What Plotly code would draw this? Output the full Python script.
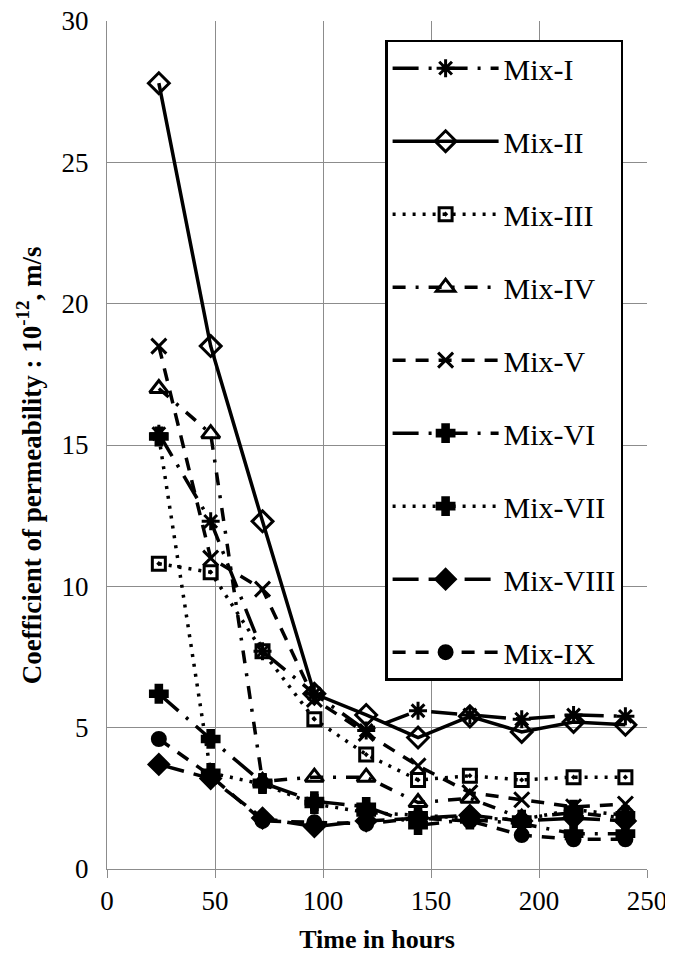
import plotly.graph_objects as go

hours = [24, 48, 72, 96, 120, 144, 168, 192, 216, 240]

mix_1 = [15.4, 12.3, 7.7, 6.2, 4.9, 5.6, 5.45, 5.3, 5.45, 5.4]
mix_2 = [27.8, 18.5, 12.3, 6.2, 5.45, 4.65, 5.4, 4.85, 5.2, 5.1]
mix_3 = [10.8, 10.5, 7.7, 5.3, 4.05, 3.15, 3.3, 3.15, 3.25, 3.25]
mix_4 = [17.0, 15.4, 3.1, 3.25, 3.25, 2.35, 2.5, 1.8, 2.0, 1.8]
mix_5 = [18.5, 11.0, 9.9, 6.0, 4.8, 3.65, 2.7, 2.45, 2.2, 2.3]
mix_6 = [6.2, 4.6, 3.05, 2.4, 2.2, 1.55, 1.75, 1.6, 1.25, 1.25]
mix_7 = [15.3, 3.4, 3.0, 2.3, 2.0, 1.9, 1.8, 1.75, 2.1, 1.9]
mix_8 = [3.7, 3.2, 1.8, 1.5, 1.7, 1.8, 1.9, 1.7, 1.8, 1.7]
mix_9 = [4.6, 3.3, 1.7, 1.65, 1.6, 1.8, 1.7, 1.2, 1.05, 1.05]

names = ["Mix-I", "Mix-II", "Mix-III", "Mix-IV", "Mix-V",
         "Mix-VI", "Mix-VII", "Mix-VIII", "Mix-IX"]
series = [mix_1, mix_2, mix_3, mix_4, mix_5, mix_6, mix_7, mix_8, mix_9]

symbols = ["asterisk-open", "diamond-open", "square-open-dot", "triangle-up-open",
           "x-thin-open", "cross", "cross", "diamond", "circle"]
dashes = ["26px,10px,3px,10px", "solid", "3px,7px", "13px,10px,3px,10px", "13px,10px",
          "26px,10px,3px,10px", "3px,7px", "26px,10px", "13px,10px"]
sizes = [15, 16, 13, 16, 15, 14, 14, 15, 13]

fig = go.Figure()
for i, (nm, ys) in enumerate(zip(names, series)):
    fig.add_trace(go.Scatter(
        x=hours, y=ys, name=nm, mode="lines+markers",
        legendgroup=nm,
        line=dict(color="black", width=3.5, dash=dashes[i]),
        marker=dict(symbol=symbols[i], size=sizes[i], color="black",
                    line=dict(color="black", width=3)),
    ))

font_fam = "Liberation Serif, Times New Roman, serif"

# page body has an 8px margin; compensate so the plot area lands where the reference has it
fig.update_layout(
    width=665, height=957,
    margin=dict(l=99, r=26, t=13, b=96),
    paper_bgcolor="white", plot_bgcolor="white",
    font=dict(family=font_fam, size=27, color="black"),
    showlegend=True,
    legend=dict(
        x=0.515, y=0.978, xanchor="left", yanchor="top",
        bgcolor="white", bordercolor="black", borderwidth=2.5,
        font=dict(family=font_fam, size=30, color="black"),
        tracegroupgap=31, itemwidth=106,
    ),
    xaxis=dict(
        range=[0, 250], dtick=50, showgrid=True, gridcolor="#8c8c8c", gridwidth=1,
        showline=True, linecolor="#8c8c8c", linewidth=1,
        ticks="outside", ticklen=8, tickcolor="#8c8c8c",
        zeroline=False, automargin=False, ticklabeloverflow="allow",
        tickfont=dict(family=font_fam, size=27, color="black"),
        title=dict(text="<b>Time in hours</b>", standoff=14,
                   font=dict(family=font_fam, size=26, color="black")),
    ),
    yaxis=dict(
        range=[0, 30], dtick=5, showgrid=True, gridcolor="#8c8c8c", gridwidth=1,
        showline=True, linecolor="#8c8c8c", linewidth=1,
        zeroline=False, ticklabelstandoff=12, automargin=False,
        ticklabeloverflow="allow",
        tickfont=dict(family=font_fam, size=27, color="black"),
    ),
    annotations=[dict(
        text="<b>Coefficient of permeability : 10<sup>-12</sup>, m/s</b>",
        xref="paper", yref="paper", x=-0.143, y=0.476,
        xanchor="center", yanchor="middle", textangle=-90, showarrow=False,
        font=dict(family=font_fam, size=27, color="black"),
    )],
)

fig.write_html("out.html")
